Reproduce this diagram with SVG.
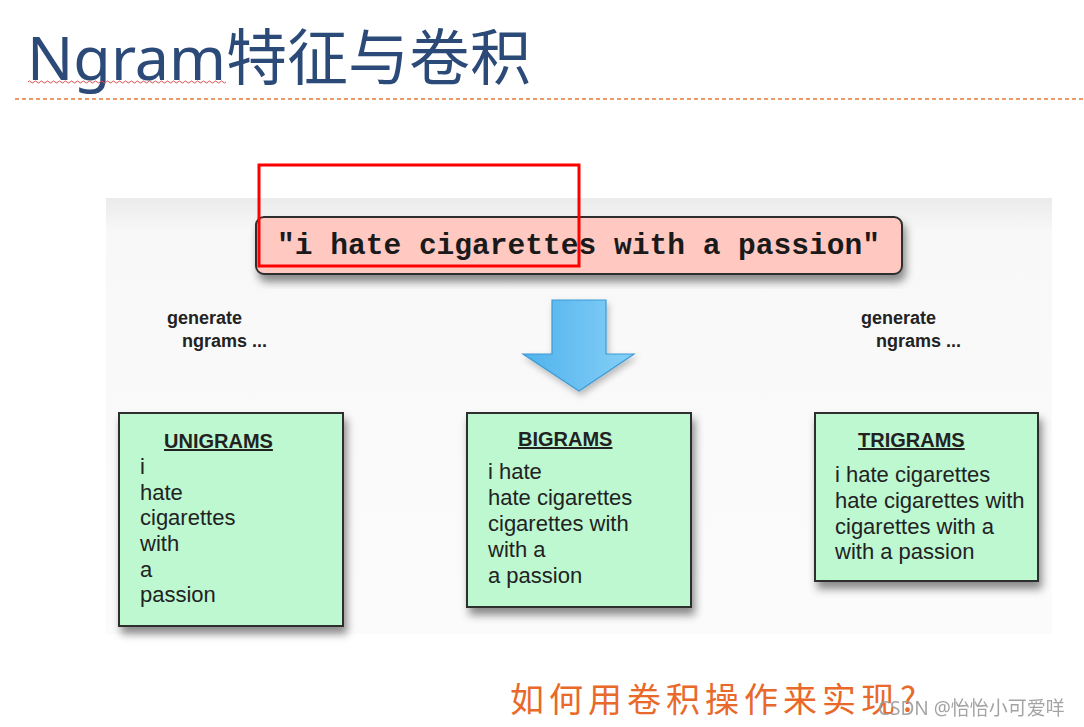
<svg xmlns="http://www.w3.org/2000/svg" width="1084" height="727" viewBox="0 0 1084 727">
<defs>
<linearGradient id="panelG" x1="0" y1="0" x2="0" y2="1">
<stop offset="0" stop-color="#ebebeb"/>
<stop offset="0.08" stop-color="#f8f8f8"/>
<stop offset="1" stop-color="#fbfbfb"/>
</linearGradient>
<linearGradient id="arrowG" x1="0" y1="0" x2="1" y2="0">
<stop offset="0" stop-color="#4fb2ec"/>
<stop offset="1" stop-color="#86d0f7"/>
</linearGradient>
<filter id="sh" x="-10%" y="-10%" width="125%" height="135%">
<feDropShadow dx="3" dy="7" stdDeviation="4" flood-color="#000" flood-opacity="0.45"/>
</filter>
<filter id="sh2" x="-20%" y="-20%" width="140%" height="140%">
<feDropShadow dx="2" dy="4" stdDeviation="3" flood-color="#000" flood-opacity="0.25"/>
</filter>
</defs>
<style>
.title{font-family:"Noto Sans","Noto Sans CJK SC",sans-serif;font-size:61px;fill:#2b4a78}
.box{fill:#bdf8d1;stroke:#2e2e2e;stroke-width:2}
.hd{font-family:"Liberation Sans",Arial,sans-serif;font-size:20px;font-weight:bold;fill:#222;text-decoration:underline}
.it{font-family:"Liberation Sans",Arial,sans-serif;font-size:22px;fill:#222}
.gen{font-family:"Liberation Sans",Arial,sans-serif;font-size:18px;font-weight:bold;fill:#222}
.q{font-family:"Liberation Mono","Courier New",monospace;font-size:29px;font-weight:bold;fill:#1a1a1a}
</style>
<rect width="1084" height="727" fill="#ffffff"/>
<g id="title">
<text class="title" x="27" y="80">Ngram特征与卷积</text>
<path d="M28,82 q1.5,-2 3,0 t3,0 t3,0 t3,0 t3,0 t3,0 t3,0 t3,0 t3,0 t3,0 t3,0 t3,0 t3,0 t3,0 t3,0 t3,0 t3,0 t3,0 t3,0 t3,0 t3,0 t3,0 t3,0 t3,0 t3,0 t3,0 t3,0 t3,0 t3,0 t3,0 t3,0 t3,0 t3,0 t3,0 t3,0 t3,0 t3,0 t3,0 t3,0 t3,0 t3,0 t3,0 t3,0 t3,0 t3,0 t3,0 t3,0 t3,0 t3,0 t3,0 t3,0 t3,0 t3,0 t3,0 t3,0 t3,0 t3,0 t3,0 t3,0 t3,0 t3,0 t3,0 t3,0 t3,0 t3,0 t3,0" fill="none" stroke="#e05050" stroke-width="1"/>
<line x1="15" y1="99" x2="1084" y2="99" stroke="#e8793a" stroke-width="1.3" stroke-dasharray="4,3"/>
</g>
<g id="panel">
<rect x="106" y="198" width="946" height="436" fill="url(#panelG)"/>
</g>
<g id="sentence">
<rect x="256" y="217" width="646" height="57" rx="8" fill="#ffc9c2" stroke="#2e2e2e" stroke-width="2" filter="url(#sh)"/>
<text class="q" x="277" y="254" textLength="603" lengthAdjust="spacingAndGlyphs">"i hate cigarettes with a passion"</text>
</g>
<g id="connectors">
<path d="M552,300 L606,300 L606,354 L634,354 L579,391 L523,354 L552,354 Z" fill="url(#arrowG)" stroke="#3d9ad6" stroke-width="1.2" filter="url(#sh2)"/>
</g>
<g id="gen-left">
<text class="gen" x="167" y="324">generate</text>
<text class="gen" x="182" y="347">ngrams ...</text>
</g>
<g id="gen-right">
<text class="gen" x="861" y="324">generate</text>
<text class="gen" x="876" y="347">ngrams ...</text>
</g>
<g id="unigrams">
<rect class="box" x="119" y="413" width="224" height="213" filter="url(#sh)"/>
<text class="hd" x="164" y="448">UNIGRAMS</text>
<text class="it" x="140" y="474">i</text>
<text class="it" x="140" y="500">hate</text>
<text class="it" x="140" y="525">cigarettes</text>
<text class="it" x="140" y="551">with</text>
<text class="it" x="140" y="577">a</text>
<text class="it" x="140" y="602">passion</text>
</g>
<g id="bigrams">
<rect class="box" x="467" y="413" width="224" height="194" filter="url(#sh)"/>
<text class="hd" x="518" y="446">BIGRAMS</text>
<text class="it" x="488" y="479">i hate</text>
<text class="it" x="488" y="505">hate cigarettes</text>
<text class="it" x="488" y="531">cigarettes with</text>
<text class="it" x="488" y="557">with a</text>
<text class="it" x="488" y="583">a passion</text>
</g>
<g id="trigrams">
<rect class="box" x="815" y="413" width="223" height="168" filter="url(#sh)"/>
<text class="hd" x="858" y="447">TRIGRAMS</text>
<text class="it" x="835" y="482">i hate cigarettes</text>
<text class="it" x="835" y="508">hate cigarettes with</text>
<text class="it" x="835" y="534">cigarettes with a</text>
<text class="it" x="835" y="559">with a passion</text>
</g>
<g id="highlight">
<rect x="259" y="165" width="320" height="101" fill="none" stroke="#ff0000" stroke-width="3"/>
</g>
<g id="question">
<text x="510" y="712" font-family="'Noto Sans CJK SC',sans-serif" font-size="34" fill="#e8692a" letter-spacing="5">如何用卷积操作来实现?</text>
</g>
<g id="watermark">
<text x="878" y="715" font-family="'Noto Sans','Noto Sans CJK SC',sans-serif" font-size="19" fill="#9a9a9a" opacity="0.9">CSDN @怡怡小可爱咩</text>
</g>
</svg>
